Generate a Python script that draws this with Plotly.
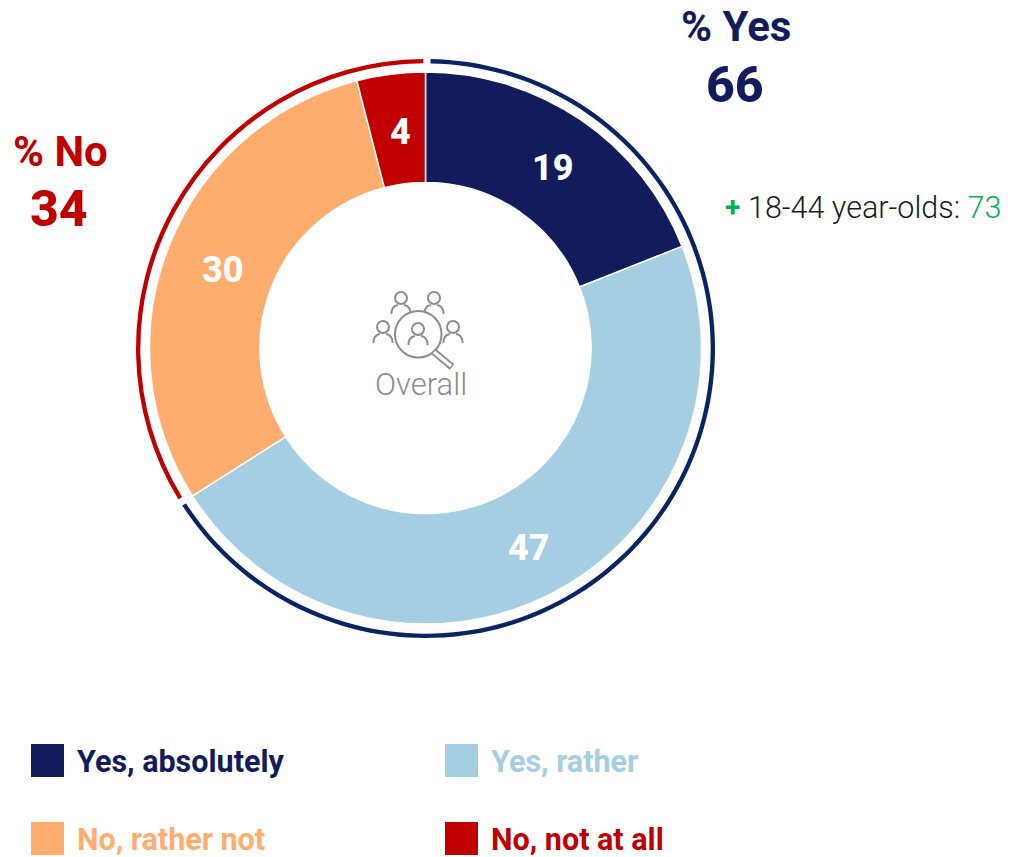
import math
import plotly.graph_objects as go

categories = ["Yes, absolutely", "Yes, rather", "No, rather not", "No, not at all"]
values = [19, 47, 30, 4]
colors = ["#121c5c", "#a5cee3", "#ffad6e", "#c00000"]
ring_labels = ["% Yes", "gap a", "% No", "gap b"]
ring_values = [65.6, 0.4, 33.6, 0.4]
ring_colors = ["#0a2463", "rgba(0,0,0,0)", "#c00000", "rgba(0,0,0,0)"]
yes_total = 66
no_total = 34
subgroup_label = "18-44 year-olds: "
subgroup_value = 73

W, H = 1011, 857
FONT = "Roboto"
GREY = "#8c8c8c"
CX, CY, R = 425.5, 348, 276


def px(x):
    return x / W


def py(y):
    return 1 - y / H


def domain(cx, cy, r):
    return dict(x=[px(cx - r), px(cx + r)], y=[py(cy + r), py(cy - r)])


fig = go.Figure()
fig.add_trace(go.Pie(
    labels=categories, values=values, sort=False, direction="clockwise", rotation=0,
    hole=0.6, domain=domain(CX, CY, R),
    marker=dict(colors=colors, line=dict(color="white", width=1.5)),
    textinfo="none",
    showlegend=False, hoverinfo="label+value",
))
fig.add_trace(go.Pie(
    labels=ring_labels, values=ring_values, sort=False, direction="clockwise", rotation=1,
    hole=0.985, domain=domain(425.5, 348.5, 289.5),
    marker=dict(colors=ring_colors, line=dict(width=0)),
    textinfo="none", showlegend=False, hoverinfo="skip",
))

shapes = []
annotations = []


def text(x, y, s, size, color, weight="normal", anchor="center"):
    annotations.append(dict(
        x=px(x), y=py(y), xref="paper", yref="paper", text=s, showarrow=False,
        xanchor=anchor, yanchor="middle",
        font=dict(family=FONT, size=size, color=color, weight=weight),
    ))


# slice value labels placed at each slice's mid-angle
total = sum(values)
running = 0
for v in values:
    mid = (running + v / 2) / total * 2 * math.pi
    running += v
    text(CX + 221 * math.sin(mid) + 3, CY - 221 * math.cos(mid) + 3, str(v), 36, "white", 800)

text(736, 26, "% Yes", 42, colors[0], "bold")
text(735, 85, str(yes_total), 50, colors[0], 800)
text(60, 151, "% No", 42, "#c00000", "bold")
text(59, 209, str(no_total), 50, "#c00000", 800)
text(732, 207, "+", 28, "#00b050", "bold")
text(746, 207, f"{subgroup_label}<span style='color:#00b050'>{subgroup_value}</span>", 30.5, "#1a1a1a", 300, "left")
text(421, 384, "Overall", 31, GREY, 300)

legend_pos = [(31, 744), (445, 744), (31, 822), (445, 822)]
for (x, y), name, c in zip(legend_pos, categories, colors):
    shapes.append(dict(type="rect", xref="paper", yref="paper", x0=px(x), x1=px(x + 33),
                       y0=py(y), y1=py(y + 33), fillcolor=c, line=dict(width=0)))
    text(x + 44, y + 17, name, 30.5, c, "bold", "left")


def path(d, width=2, color=GREY):
    out = []
    for tok in d:
        if isinstance(tok, str):
            out.append(tok)
        else:
            out.append(f"{px(tok[0])},{py(tok[1])}")
    shapes.append(dict(type="path", xref="paper", yref="paper", path=" ".join(out),
                       line=dict(color=color, width=width)))


def circle(cx, cy, r, width=2):
    shapes.append(dict(type="circle", xref="paper", yref="paper", x0=px(cx - r), x1=px(cx + r),
                       y0=py(cy + r), y1=py(cy - r), line=dict(color=GREY, width=width)))


def person(cx, cy, r):
    circle(cx, cy, r)
    top = cy + r + 1
    w = r * 1.6
    path(["M", (cx - w, top + 9), "Q", (cx - w, top + 1), (cx - r * 0.5, top)])
    path(["M", (cx + w, top + 9), "Q", (cx + w, top + 1), (cx + r * 0.5, top)])


for cx, cy in [(401, 298), (434, 298), (383, 327), (453, 327)]:
    person(cx, cy, 6)
shapes.append(dict(type="circle", xref="paper", yref="paper", x0=px(395), x1=px(441.5),
                   y0=py(357.5), y1=py(311), fillcolor="white", line=dict(color=GREY, width=2)))
person(418, 329, 6)
path(["M", (433, 351), "L", (452, 367)], width=7)
path(["M", (434, 352), "L", (451, 366)], width=3.5, color="white")

fig.update_layout(
    width=W, height=H, margin=dict(l=0, r=0, t=0, b=0),
    paper_bgcolor="white", plot_bgcolor="white",
    shapes=shapes, annotations=annotations,
)
fig.write_html("out.html", config=dict(displayModeBar=False), post_script="document.body.style.margin='0';")
